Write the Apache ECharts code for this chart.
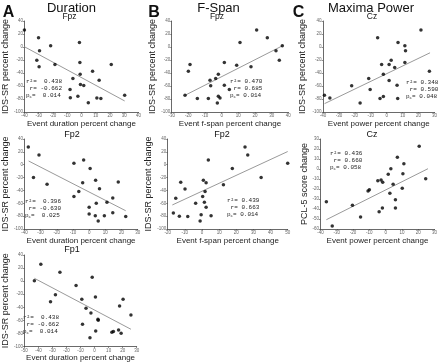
<!DOCTYPE html>
<html>
<head>
<meta charset="utf-8">
<script src="https://cdn.jsdelivr.net/npm/echarts@6/dist/echarts.min.js"></script>
<style>
  html, body { margin: 0; padding: 0; background: #fff; }
  #chart { width: 440px; height: 363px; }
</style>
</head>
<body>
<div id="chart"></div>
<script>
// A - Duration, Fpz
var durFpzX = [-40, -30.1, -29.4, -21.6, -31.3, -29.7, -18.6, -1.4, -1.1, -0.9, 7.8, 20.9, -6, 12.4, -8, -0.7, 1.6, -7.8, -2.5, 4.8, 10.8, 13.6, 30.3];
var durFpzY = [26, 14.3, -5.8, 2, -20.2, -30.5, -26.9, 7.1, -23.8, -41.8, -37.2, -26.9, -48.5, -51.1, -65.5, -57.8, -59.3, -77.9, -75.8, -85.6, -78.4, -79.4, -74.3];
var durFpzFit = [[-40, 0.4], [30.3, -83]];
// A - Duration, Fp2
var durFp2X = [-37.6, -31, -34.4, -26, -9.4, -3.4, 0.6, 4, -4, -6.4, 6.4, 18, -9.4, 4.4, 11, 14.6, 0, 0, 3.8, 9.4, 14.6, 5.6, 22.6];
var durFp2Y = [27.4, 15.3, -20, -30.5, 2.1, 7.4, -5.8, -24.2, -27.9, -41.6, -37.4, -26.8, -49.5, -60, -58.4, -51.6, -66.3, -76.8, -79.5, -79.5, -74.7, -87.4, -80.5];
var durFp2Fit = [[-37.4, 5.8], [22.6, -71.6]];
// A - Duration, Fp1
var durFp1X = [-38.3, -24.7, -42.9, -1.7, -13.2, -27.9, -31.4, -9.1, 0.6, -6.1, 17.8, 20.3, -2.6, 25.9, -8.6, 2.4, 2.6, 0.8, -3.3, 12.3, 13.4, 17.1, 18.9];
var durFp1Y = [25.7, 13.5, 0.8, 5.9, -6.8, -20.6, -31.3, -27.7, -24.2, -41.5, -37.9, -27.7, -48.6, -51.6, -65.9, -58.3, -59.8, -76.1, -86.3, -78.1, -77.1, -74.6, -79.7];
var durFp1Fit = [[-42.9, 4.4], [25.9, -73.5]];
// B - F-Span, Fpz
var fspFpzX = [21, 27.4, 11, 36.4, 32.6, 34.6, 17.6, 9, 1.6, -19, -20, -2, -3.6, -7, -6.6, 1.6, 4.6, -22, -14.6, -8, -2, -1, -2.6];
var fspFpzY = [26.1, 14.3, 7.1, 2, -5.8, -20.2, -30.5, -28, -23.8, -26.9, -37.2, -41.8, -48.5, -51.1, -59.8, -58.8, -65.5, -74.3, -79.4, -79.4, -75.8, -78.4, -86.1];
var fspFpzFit = [[-22, -74.3], [36.6, 2]];
// B - F-Span, Fp2
var fspFp2X = [25.1, 26.7, 3.7, 50, 17.7, 34.5, 0.8, 2.4, -12.4, 12.5, -9.9, 1.8, -15.3, 0.4, -3.7, 1.4, 2.4, -16.7, -13.2, -8.3, -0.5, 5.3, -1.1];
var fspFp2Y = [27.4, 15.3, 7.4, 2.1, -5.8, -20, -24.2, -27.9, -27.4, -31, -37.9, -41.6, -52.1, -49.5, -60, -58.4, -66.3, -75.3, -80, -80.5, -77.9, -79.5, -87.4];
var fspFp2Fit = [[-17.3, -62.6], [50, 20.5]];
// C - Maxima Power, Cz (IDS-SR)
var powCzX = [21.5, -5.7, 7.1, 11.4, 11.8, -3.2, 2.8, 1.5, 5, -2.1, 11.4, 26.8, -11.3, 1.5, -22, -10.4, 6.5, -39.1, -35.7, -16.7, -4.2, -2.1, 6.9];
var powCzY = [26.1, 14.3, 7.1, 2, -5.8, -26.9, -20.2, -26.9, -31.5, -41.8, -23.8, -37.2, -48.5, -51.6, -59.8, -65.5, -58.8, -74.3, -78.4, -86.1, -79.4, -76.3, -79.4];
var powCzFit = [[-39, -87.1], [27.2, -8.9]];
// C - Maxima Power, Cz (PCL-5)
var powPclX = [20.6, 7.2, 11.2, 3.2, 1.6, 10.6, 24.6, -4.8, -2.8, -1.8, 4.6, -10, -10.8, 10.2, 2.6, 6, -36.4, -20.4, -2, -4, 6, -15.4, -32.8];
var powPclY = [22.7, 11.7, 5.3, 0.3, -5.3, -4.7, -9.7, -11.7, -11, -13.3, -15.3, -20.7, -22, -19.3, -24.3, -30.7, -32.7, -36.3, -39, -42.7, -39, -48, -57];
var powPclFit = [[-36.4, -50.7], [26, 0.3]];

var statsText = [
  ['r²=  0.438', ' r= -0.662', 'p{s|c}=  0.014'],
  ['r²= 0.470', ' r= 0.685', 'p{s|c}= 0.014'],
  ['r²= 0.348', ' r= 0.590', 'p{s|c}= 0.048'],
  ['r²=  0.396', ' r= -0.630', 'p{s|c}=  0.025'],
  ['r²= 0.439', ' r= 0.663', 'p{s|c}= 0.014'],
  ['r²= 0.436', ' r= 0.660', 'p{s|c}= 0.058'],
  ['r²=  0.438', ' r= -0.662', 'p{s|c}=  0.014']
];

(function () {
  var myChart = echarts.init(document.getElementById('chart'));
  var sans = '"Liberation Sans", Arial, sans-serif';
  var mono = '"Liberation Mono", "DejaVu Sans Mono", monospace';

  var panels = [
    { g: [21.7, 21, 116.8, 91], xr: [-40, 40], yr: [-100, 40, 20], xs: durFpzX, ys: durFpzY, fit: durFpzFit,
      xn: 'Event duration percent change', yn: 'IDS-SR percent change', yg: 10.2, st: [26, 78] },
    { g: [171.7, 21, 116.6, 91], xr: [-30, 40], yr: [-100, 40, 20], xs: fspFpzX, ys: fspFpzY, fit: fspFpzFit,
      xn: 'Event f-span percent change', yn: 'IDS-SR percent change', yg: 14, st: [230, 78] },
    { g: [323, 21, 112, 91], xr: [-40, 30], yr: [-100, 40, 20], xs: powCzX, ys: powCzY, fit: powCzFit,
      xn: 'Event power percent change', yn: 'IDS-SR percent change', yg: 16, st: [406, 79] },
    { g: [21.7, 139, 116, 90], xr: [-40, 30], yr: [-100, 40, 20], xs: durFp2X, ys: durFp2Y, fit: durFp2Fit,
      xn: 'Event duration percent change', yn: 'IDS-SR percent change', yg: 10.9, st: [25, 198] },
    { g: [167.7, 139, 120, 90], xr: [-20, 50], yr: [-100, 40, 20], xs: fspFp2X, ys: fspFp2Y, fit: fspFp2Fit,
      xn: 'Event f-span percent change', yn: 'IDS-SR percent change', yg: 9.7, st: [227, 196.5] },
    { g: [320.5, 139, 114.5, 90], xr: [-40, 30], yr: [-60, 30, 10], xs: powPclX, ys: powPclY, fit: powPclFit,
      xn: 'Event power percent change', yn: 'PCL-5 score change', yg: 4, st: [330, 149.5] },
    { g: [20.7, 255, 116, 92], xr: [-50, 30], yr: [-100, 40, 20], xs: durFp1X, ys: durFp1Y, fit: durFp1Fit,
      xn: 'Event duration percent change', yn: 'IDS-SR percent change', yg: 9.7, st: [23, 313.5] }
  ];

  var grid = [], xAxis = [], yAxis = [], series = [], graphic = [];
  panels.forEach(function (p, i) {
    grid.push({ left: p.g[0], top: p.g[1], width: p.g[2], height: p.g[3] });
    xAxis.push({
      gridIndex: i, type: 'value', min: p.xr[0], max: p.xr[1], interval: 10,
      name: p.xn, nameLocation: 'middle', nameGap: 6,
      nameTextStyle: { fontFamily: sans, fontSize: 8, color: '#222' },
      axisLine: { onZero: false, lineStyle: { color: '#444', width: 0.8 } },
      axisTick: { length: 1.5, lineStyle: { color: '#444', width: 0.6 } },
      axisLabel: { fontSize: 4.5, color: '#666', margin: 1.5, fontFamily: sans },
      splitLine: { show: false }
    });
    yAxis.push({
      gridIndex: i, type: 'value', min: p.yr[0], max: p.yr[1], interval: p.yr[2],
      name: p.yn, nameLocation: 'middle', nameGap: p.yg,
      nameTextStyle: { fontFamily: sans, fontSize: 9, color: '#222' },
      axisLine: { show: true, onZero: false, lineStyle: { color: '#444', width: 0.8 } },
      axisTick: { show: true, length: 1.5, lineStyle: { color: '#444', width: 0.6 } },
      axisLabel: { fontSize: 4.5, color: '#666', margin: 1.5, fontFamily: sans },
      splitLine: { show: false }
    });
    series.push({
      type: 'line', xAxisIndex: i, yAxisIndex: i, data: p.fit, symbol: 'none', silent: true,
      lineStyle: { color: '#9a9a9a', width: 1 }, z: 1
    });
    series.push({
      type: 'scatter', xAxisIndex: i, yAxisIndex: i, symbol: 'circle', symbolSize: 3.5,
      itemStyle: { color: '#000' }, z: 3,
      data: p.xs.map(function (v, k) { return [v, p.ys[k]]; })
    });
    graphic.push({
      type: 'text', x: p.st[0], y: p.st[1],
      style: {
        text: statsText[i].join('\n'), fontFamily: mono, fontSize: 6, lineHeight: 7,
        fill: '#222', verticalAlign: 'top', align: 'left',
        rich: { s: { fontFamily: mono, fontSize: 4, lineHeight: 7, fill: '#222', verticalAlign: 'bottom' } }
      }
    });
  });

  function label(t, x, y, size, weight) {
    graphic.push({
      type: 'text', x: x, y: y,
      style: { text: t, fontFamily: sans, fontSize: size, fontWeight: weight || 'normal',
        fill: '#111', align: 'center', verticalAlign: 'middle' }
    });
  }
  label('A', 8.5, 12.5, 16, 'bold');
  label('B', 154, 12.5, 16, 'bold');
  label('C', 298.5, 12.5, 16, 'bold');
  label('Duration', 71.5, 8, 13);
  label('F-Span', 218.5, 8, 13);
  label('Maxima Power', 371, 8, 13);
  label('Fpz', 69.5, 17, 8.5);
  label('Fpz', 217, 17, 8.5);
  label('Cz', 372, 17, 8.5);
  label('Fp2', 72, 135, 9);
  label('Fp2', 222, 135, 9);
  label('Cz', 372, 135, 9);
  label('Fp1', 72, 250, 9);

  var option = {
    backgroundColor: '#fff',
    animation: false,
    grid: grid,
    xAxis: xAxis,
    yAxis: yAxis,
    series: series,
    graphic: graphic
  };
  myChart.setOption(option);
  window.addEventListener('resize', function () {
    myChart.resize();
  });
})();
</script>
</body>
</html>
